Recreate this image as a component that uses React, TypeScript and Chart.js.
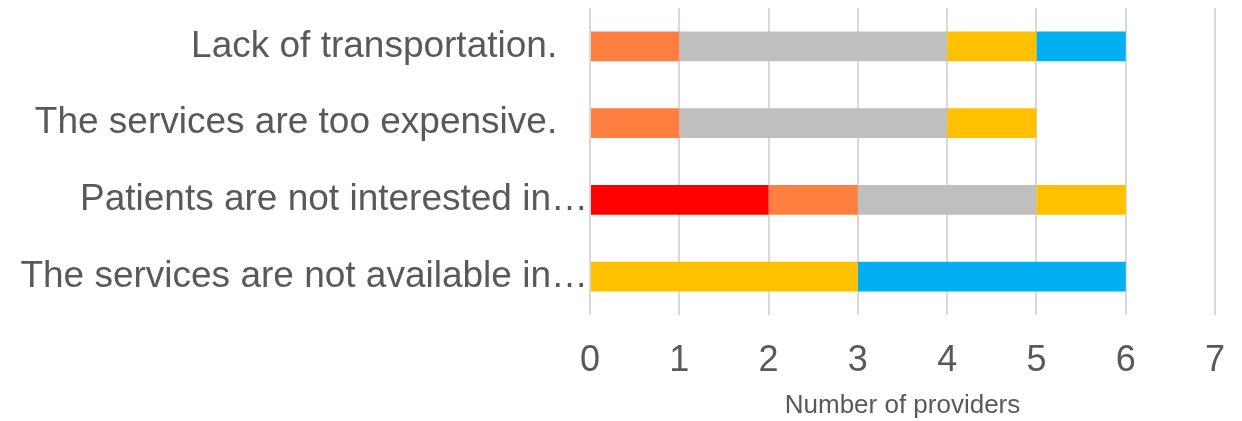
import React, { useEffect, useRef } from "react";
import { Chart, registerables } from "chart.js";

Chart.register(...registerables);

const categories = [
  "Lack of transportation.   ",
  "The services are too expensive.   ",
  "Patients are not interested in…",
  "The services are not available in…",
];
const seriesNames = ["Series 1", "Series 2", "Series 3", "Series 4", "Series 5"];
const redValues = [0, 0, 2, 0];
const orangeValues = [1, 1, 1, 0];
const grayValues = [3, 3, 2, 0];
const yellowValues = [1, 1, 1, 3];
const blueValues = [1, 0, 0, 3];
const xTicks = [0, 1, 2, 3, 4, 5, 6, 7];
const xTitle = "Number of providers";

const colors = ["#FF0000", "#FF7F41", "#BFBFBF", "#FFC000", "#00B0F0"];
const FONT = "'Liberation Sans', Arial, sans-serif";
const TEXT = "#595959";

export default function App() {
  const ref = useRef<HTMLCanvasElement | null>(null);
  useEffect(() => {
    if (!ref.current) return;
    const values = [redValues, orangeValues, grayValues, yellowValues, blueValues];
    const chart = new Chart(ref.current, {
      type: "bar",
      data: {
        labels: categories,
        datasets: values.map((v, i) => ({
          label: seriesNames[i],
          data: v,
          backgroundColor: colors[i],
          borderWidth: 0,
          categoryPercentage: 1,
          barPercentage: 0.39,
        })),
      },
      options: {
        indexAxis: "y",
        animation: false,
        responsive: false,
        maintainAspectRatio: false,
        layout: { padding: { top: 8, right: 27, left: 0, bottom: 0 } },
        plugins: { legend: { display: false }, tooltip: { enabled: false } },
        scales: {
          x: {
            stacked: true,
            min: 0,
            max: 7,
            afterBuildTicks: (axis: any) => {
              axis.ticks = xTicks.map((v) => ({ value: v }));
            },
            afterFit: (axis: any) => {
              axis.height = 106;
              axis.paddingLeft = 0;
              axis.paddingRight = 0;
            },
            grid: { color: "#D9D9D9", lineWidth: 2, drawTicks: false },
            border: { display: false },
            ticks: {
              color: TEXT,
              font: { family: FONT, size: 36 },
              padding: 24,
            },
            title: {
              display: true,
              text: xTitle,
              color: TEXT,
              font: { family: FONT, size: 26 },
              padding: { top: 4, bottom: 0 },
            },
          },
          y: {
            stacked: true,
            grid: { display: false, drawTicks: false },
            border: { display: false },
            afterFit: (axis: any) => {
              axis.width = 590;
              axis.paddingTop = 0;
              axis.paddingBottom = 0;
            },
            ticks: {
              color: TEXT,
              font: { family: FONT, size: 37, lineHeight: 0.4 },
              padding: 2,
              autoSkip: false,
            },
          },
        },
      },
    });
    return () => chart.destroy();
  }, []);
  return (
    <div style={{ position: "absolute", left: 0, top: 0, width: 1242, height: 421, background: "#fff" }}>
      <canvas ref={ref} width={1242} height={421} style={{ width: 1242, height: 421 }} />
    </div>
  );
}
